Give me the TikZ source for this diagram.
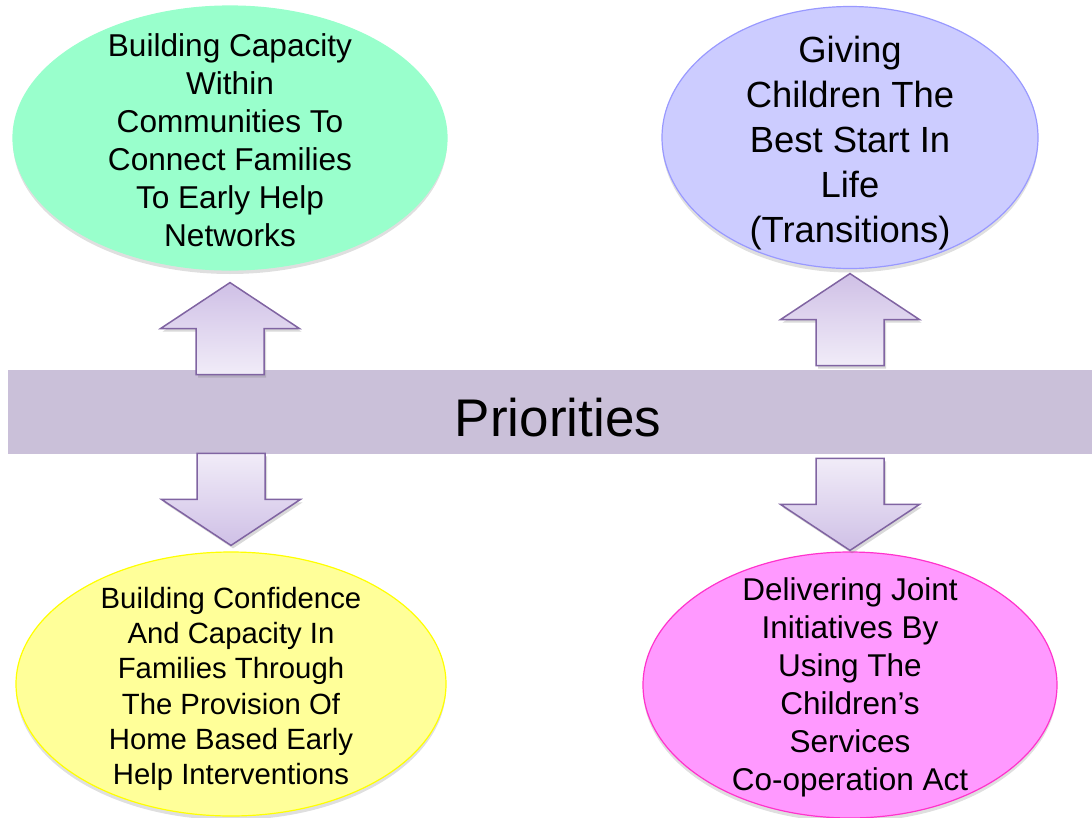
\documentclass[tikz,border=0pt]{standalone}
\usepackage{fontspec}
\setmainfont{Liberation Sans}
\usepackage{tikz}
\usetikzlibrary{positioning}
\usetikzlibrary{shapes, shadows}

\definecolor{bandfill}{HTML}{CAC0D9}
\definecolor{arrowline}{HTML}{8064A2}
\definecolor{arrowdark}{HTML}{CFC0E6}
\definecolor{arrowlight}{HTML}{F1ECF8}
\definecolor{greenfill}{HTML}{99FFCC}
\definecolor{bluefill}{HTML}{CCCCFF}
\definecolor{blueline}{HTML}{9999FF}
\definecolor{yellowfill}{HTML}{FFFF99}
\definecolor{yellowline}{HTML}{FFFF00}
\definecolor{pinkfill}{HTML}{FF99FF}
\definecolor{pinkline}{HTML}{FF33CC}

% #1 tip, #2 = 1 up / -1 down, #3 style
\newcommand{\prioarrow}[3]{
	\draw[#3] (#1) -- ++(69.5,{(#2)*46}) -- ++(-35.5,0) -- ++(0,{(#2)*46})
	-- ++(-68,0) -- ++(0,{-(#2)*46}) -- ++(-35.5,0) -- cycle;
}

\begin{document}
\begin{tikzpicture}[x=1pt, y=-1pt]

\tikzset{goal/.style={
		ellipse,
		inner sep=0pt,
		line width=1.2pt,
		drop shadow={opacity=0.25, shadow xshift=0pt, shadow yshift=-4pt}
	},
	goal text/.style 2 args={
		align=center,
		inner sep=0pt,
		font=\fontsize{#1}{#2}\selectfont
	},
	lift arrow/.style={
		draw=arrowline, line width=1.5pt, line join=miter,
		top color=arrowdark, bottom color=arrowlight,
		drop shadow={opacity=0.3, shadow xshift=2pt, shadow yshift=-3pt}
	},
	drop arrow/.style={
		lift arrow,
		top color=arrowlight, bottom color=arrowdark
	}
}

\useasboundingbox (0,0) rectangle (1092,817);

\node[fill=bandfill, minimum width=1100pt, minimum height=84pt, inner sep=0pt] (band) at (558,412) {};
\node[font=\fontsize{53}{60}\selectfont] (band-text) at (558,418) {Priorities};

\node[goal, fill=greenfill, draw=greenfill, minimum width=434pt, minimum height=264pt] (tl) at (230,138) {};
\node[goal, fill=bluefill, draw=blueline, minimum width=376pt, minimum height=262pt] (tr) at (850,137.5) {};
\node[goal, fill=yellowfill, draw=yellowline, minimum width=430pt, minimum height=264pt] (bl) at (231,684) {};
\node[goal, fill=pinkfill, draw=pinkline, minimum width=414pt, minimum height=266pt] (br) at (850,685) {};

\node[goal text={31.6}{38}, yshift=-2.5pt] (tl-text) at (tl) {Building Capacity\\Within\\Communities To\\Connect Families\\To Early Help\\Networks};
\node[goal text={36.4}{45}, yshift=-6pt] (tr-text) at (tr) {Giving\\Children The\\Best Start In\\Life\\(Transitions)};
\node[goal text={29.3}{35.2}, yshift=-5pt] (bl-text) at (bl) {Building Confidence\\And Capacity In\\Families Through\\The Provision Of\\Home Based Early\\Help Interventions};
\node[goal text={31.5}{38}, yshift=-2.5pt] (br-text) at (br) {Delivering Joint\\Initiatives By\\Using The\\Children’s\\Services\\Co-operation Act};

\coordinate[below=12pt of tl] (tl-tip);
\coordinate[below=4.5pt of tr] (tr-tip);
\coordinate[above=6pt of bl] (bl-tip);
\coordinate[above=1pt of br] (br-tip);

\prioarrow{tl-tip}{1}{lift arrow}
\prioarrow{tr-tip}{1}{lift arrow}
\prioarrow{bl-tip}{-1}{drop arrow}
\prioarrow{br-tip}{-1}{drop arrow}

\end{tikzpicture}
\end{document}
